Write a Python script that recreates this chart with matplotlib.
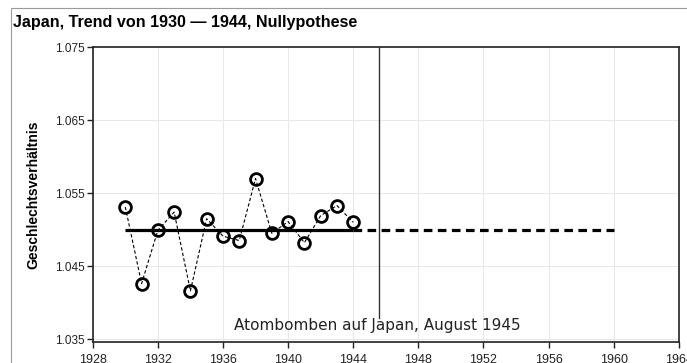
import matplotlib
matplotlib.use("Agg")
import matplotlib.pyplot as plt
from matplotlib.patches import Rectangle

plt.rcParams.update({
    "font.family": "sans-serif",
    "font.sans-serif": ["Liberation Sans", "DejaVu Sans"],
})

# Observed sex ratio, Japan 1930-1944
YEARS = [1930, 1931, 1932, 1933, 1934, 1935, 1936, 1937,
         1938, 1939, 1940, 1941, 1942, 1943, 1944]
RATIO = [1.0531, 1.0426, 1.0499, 1.0524, 1.0416, 1.0515, 1.0491, 1.0485,
         1.0570, 1.0495, 1.0511, 1.0482, 1.0519, 1.0533, 1.0510]

# null hypothesis: flat trend, fitted and extended
TREND_LEVEL = 1.0500
FIT_RANGE = [1930, 1944]
EXT_RANGE = [1944, 1960]
EVENT_X = 1945.6
EVENT_LABEL = "Atombomben auf Japan, August 1945"

XTICKS = list(range(1928, 1965, 4))
YTICKS = [1.035, 1.045, 1.055, 1.065, 1.075]

fig = plt.figure(figsize=(6.87, 3.63), dpi=100)
ax = fig.add_axes([0.135, 0.058, 0.853, 0.812])

# outer frame (partly cropped)
fig.patches.append(Rectangle((11 / 687, -0.1), 1.2, 1.1 - 8 / 363,
                             transform=fig.transFigure, fill=False,
                             edgecolor="#9a9a9a", linewidth=0.8))

ax.plot(YEARS, RATIO, color="black", linewidth=0.8, linestyle=(0, (3, 2)),
        zorder=2)
ax.plot(YEARS, RATIO, linestyle="none", marker="o", markersize=8.5,
        markerfacecolor="none", markeredgecolor="black",
        markeredgewidth=2.0, zorder=4)

ax.plot(FIT_RANGE, [TREND_LEVEL, TREND_LEVEL], color="black", linewidth=2.3,
        zorder=3, solid_capstyle="butt")
ax.plot(EXT_RANGE, [TREND_LEVEL, TREND_LEVEL], color="black", linewidth=2.3,
        linestyle=(0, (2.7, 1.7)), zorder=3)

ax.plot([EVENT_X, EVENT_X], [1.0379, 1.075], color="#333333", linewidth=1.0,
        zorder=3)
ax.text(EVENT_X - 0.1, 1.0363, EVENT_LABEL, ha="center", va="baseline",
        fontsize=11, color="#222222", family="DejaVu Sans")

ax.set_xlim(1928, 1964)
ax.set_ylim(1.0346, 1.075)
ax.set_xticks(XTICKS)
ax.set_yticks(YTICKS)
ax.set_yticklabels(["%.3f" % v for v in YTICKS])
ax.tick_params(axis="both", direction="out", length=4, width=1.0,
               labelsize=8.5, colors="#222222", pad=2)
ax.tick_params(axis="x", labelsize=9, pad=5)
ax.grid(True, color="#e8e8e8", linewidth=0.7)
ax.set_axisbelow(True)
for s in ax.spines.values():
    s.set_linewidth(1.2)
    s.set_color("#222222")

ax.set_ylabel("Geschlechtsverhältnis", fontsize=10, fontweight="bold",
              labelpad=10)

fig.text(13 / 687, 1 - 22 / 363, "Japan, Trend von 1930 \u2014 1944, Nullypothese",
         ha="left", va="center", fontsize=11.6, fontweight="bold")

fig.savefig("out.png", dpi=100)
